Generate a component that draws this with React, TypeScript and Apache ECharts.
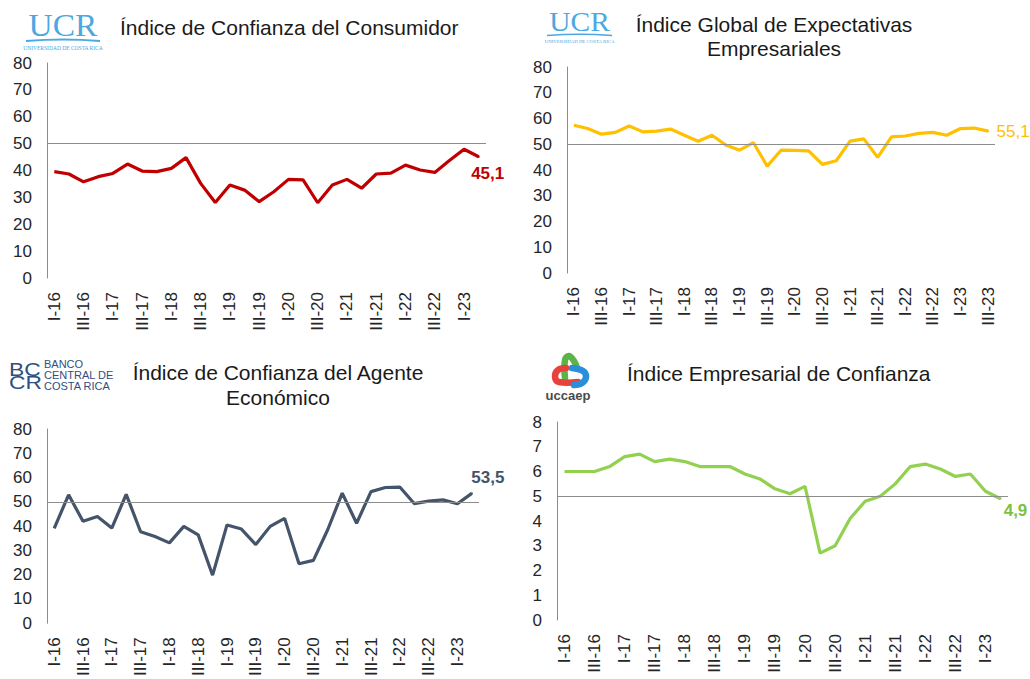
import React, { useEffect, useRef } from "react";
import * as echarts from "echarts";

const quarters = [
  "I-16", "II-16", "III-16", "IV-16",
  "I-17", "II-17", "III-17", "IV-17",
  "I-18", "II-18", "III-18", "IV-18",
  "I-19", "II-19", "III-19", "IV-19",
  "I-20", "II-20", "III-20", "IV-20",
  "I-21", "II-21", "III-21", "IV-21",
  "I-22", "II-22", "III-22", "IV-22",
  "I-23", "II-23", "III-23",
];

const consumidor = [39.6, 38.7, 35.8, 37.7, 38.9, 42.4, 39.8, 39.6, 40.8, 44.8, 35.2, 28.1, 34.6, 32.7, 28.4, 32.1, 36.7, 36.5, 28.0, 34.6, 36.7, 33.4, 38.7, 39.0, 42.0, 40.2, 39.3, 43.7, 47.9, 45.1];
const expectativas = [57.4, 56.1, 53.9, 54.6, 57.1, 54.8, 55.1, 55.9, 53.5, 51.2, 53.5, 49.7, 47.7, 50.6, 41.5, 47.7, 47.6, 47.4, 42.2, 43.6, 51.2, 52.1, 44.9, 52.9, 53.2, 54.2, 54.6, 53.5, 56.1, 56.3, 55.1];
const agente = [39.1, 52.9, 42.0, 44.0, 39.2, 53.1, 37.7, 35.7, 33.1, 39.9, 36.4, 19.8, 40.5, 38.8, 32.4, 39.9, 43.2, 24.5, 25.9, 38.6, 53.6, 41.2, 54.2, 55.9, 56.1, 49.3, 50.3, 50.8, 49.2, 53.5];
const empresarial = [6.0, 6.0, 6.0, 6.2, 6.6, 6.7, 6.4, 6.5, 6.4, 6.2, 6.2, 6.2, 5.9, 5.7, 5.3, 5.1, 5.4, 2.7, 3.0, 4.1, 4.8, 5.0, 5.5, 6.2, 6.3, 6.1, 5.8, 5.9, 5.2, 4.9];

const titles = {
  consumidor: ["Índice de Confianza del Consumidor"],
  expectativas: ["Índice Global de Expectativas", "Empresariales"],
  agente: ["Índice de Confianza del Agente", "Económico"],
  empresarial: ["Índice Empresarial de Confianza"],
};

const yScale100 = { min: 0, max: 80, interval: 10 };
const yScale10 = { min: 0, max: 8, interval: 1 };
const threshold100 = 50;
const threshold10 = 5;

const FONT = "'Liberation Sans', Arial, sans-serif";
const SERIF = "'Liberation Serif', 'DejaVu Serif', serif";

type Panel = {
  grid: { left: number; top: number; width: number; height: number };
  values: number[];
  color: string;
  labelColor: string;
  labelBold: boolean;
  labelOffset: number[];
  scale: { min: number; max: number; interval: number };
  threshold: number;
};

const panels: Panel[] = [
  {
    grid: { left: 47, top: 63, width: 439, height: 215 },
    values: consumidor,
    color: "#C00000",
    labelColor: "#C00000",
    labelBold: true,
    labelOffset: [9, 17],
    scale: yScale100,
    threshold: threshold100,
  },
  {
    grid: { left: 567, top: 67, width: 428, height: 206 },
    values: expectativas,
    color: "#FFC000",
    labelColor: "#FFC000",
    labelBold: false,
    labelOffset: [25, 0],
    scale: yScale100,
    threshold: threshold100,
  },
  {
    grid: { left: 47, top: 429, width: 432, height: 196 },
    values: agente,
    color: "#44546A",
    labelColor: "#44546A",
    labelBold: true,
    labelOffset: [16, -16],
    scale: yScale100,
    threshold: threshold100,
  },
  {
    grid: { left: 557, top: 422, width: 451, height: 198 },
    values: empresarial,
    color: "#92D050",
    labelColor: "#7CC142",
    labelBold: true,
    labelOffset: [15, 12],
    scale: yScale10,
    threshold: threshold10,
  },
];

function buildOption() {
  const grids = panels.map((p) => ({ ...p.grid, containLabel: false }));
  const xAxes = panels.map((p, i) => ({
    type: "category",
    gridIndex: i,
    data: quarters.slice(0, p.values.length),
    boundaryGap: true,
    axisLine: { show: false },
    axisTick: { show: false },
    splitLine: { show: false },
    axisLabel: {
      rotate: 90,
      interval: 1,
      margin: 14,
      fontSize: 17,
      color: "#262626",
      fontFamily: FONT,
    },
  }));
  const yAxes = panels.map((p, i) => ({
    type: "value",
    gridIndex: i,
    min: p.scale.min,
    max: p.scale.max,
    interval: p.scale.interval,
    axisLine: { show: true, lineStyle: { color: "#8C8C8C", width: 1 } },
    axisTick: { show: false },
    splitLine: { show: false },
    axisLabel: {
      margin: 15,
      fontSize: 17,
      color: "#262626",
      fontFamily: FONT,
    },
  }));
  const series = panels.map((p, i) => {
    const last = p.values.length - 1;
    return {
      type: "line",
      xAxisIndex: i,
      yAxisIndex: i,
      symbol: "none",
      showSymbol: true,
      showAllSymbol: true,
      lineStyle: { color: p.color, width: 3.2 },
      itemStyle: { color: p.color },
      data: p.values.map((v, j) =>
        j === last
          ? {
              value: v,
              symbol: "circle",
              symbolSize: 2,
              itemStyle: { color: p.color },
              label: {
                show: true,
                position: "inside",
                offset: p.labelOffset,
                color: p.labelColor,
                fontSize: 17,
                fontWeight: p.labelBold ? "bold" : "normal",
                fontFamily: FONT,
                formatter: (d: any) => String(d.value).replace(".", ","),
              },
            }
          : v
      ),
      markLine: {
        silent: true,
        symbol: "none",
        label: { show: false },
        lineStyle: { color: "#8C8C8C", width: 1, type: "solid" },
        data: [{ yAxis: p.threshold }],
      },
    };
  });

  const titleStyle = (text: string, x: number, y: number, align: string) => ({
    type: "text",
    x,
    y,
    style: {
      text,
      fontSize: 21,
      fontFamily: FONT,
      fill: "#1A1A1A",
      align,
      verticalAlign: "middle",
    },
  });

  const ucrLogo = (x: number, y: number, s: number) => ({
    type: "group",
    x,
    y,
    scaleX: s,
    scaleY: s,
    children: [
      {
        type: "text",
        x: 37,
        y: -2,
        scaleX: 1.08,
        style: {
          text: "UCR",
          fontSize: 31,
          fontFamily: SERIF,
          fill: "#4BA8E0",
          align: "center",
          verticalAlign: "top",
        },
      },
      {
        type: "bezierCurve",
        shape: { x1: 0, y1: 29, x2: 74, y2: 29, cpx1: 37, cpy1: 26 },
        style: { stroke: "#4BA8E0", lineWidth: 1.8, fill: null },
      },
      {
        type: "text",
        x: 37,
        y: 36,
        style: {
          text: "UNIVERSIDAD DE COSTA RICA",
          fontSize: 5.5,
          fontFamily: SERIF,
          fill: "#4BA8E0",
          align: "center",
          verticalAlign: "middle",
        },
      },
    ],
  });

  const bccrColor = "#2F4F7F";
  const graphic = [
    titleStyle(titles.consumidor[0], 120, 27, "left"),
    titleStyle(titles.expectativas[0], 774, 24, "center"),
    titleStyle(titles.expectativas[1], 774, 48, "center"),
    titleStyle(titles.agente[0], 278, 372, "center"),
    titleStyle(titles.agente[1], 278, 397, "center"),
    titleStyle(titles.empresarial[0], 627, 373, "left"),
    ucrLogo(26, 12, 1),
    ucrLogo(547, 10, 0.88),
    // BCCR logo
    {
      type: "text",
      x: 9,
      y: 369,
      scaleX: 1.2,
      style: { text: "BC", fontSize: 19, fontFamily: FONT, fill: bccrColor, verticalAlign: "middle" },
    },
    {
      type: "text",
      x: 9,
      y: 382,
      scaleX: 1.2,
      style: { text: "CR", fontSize: 19, fontFamily: FONT, fill: bccrColor, verticalAlign: "middle" },
    },
    {
      type: "text",
      x: 44,
      y: 364,
      style: { text: "BANCO", fontSize: 11, fontFamily: FONT, fill: bccrColor, verticalAlign: "middle" },
    },
    {
      type: "text",
      x: 44,
      y: 375,
      style: { text: "CENTRAL DE", fontSize: 11, fontFamily: FONT, fill: bccrColor, verticalAlign: "middle" },
    },
    {
      type: "text",
      x: 44,
      y: 386,
      style: { text: "COSTA RICA", fontSize: 11, fontFamily: FONT, fill: bccrColor, verticalAlign: "middle" },
    },
    // uccaep logo
    {
      type: "polyline",
      shape: { points: [[565, 378], [565, 360], [569, 356], [574, 361], [577, 368]], smooth: 0.4 },
      style: { stroke: "#5BB446", lineWidth: 6.5, lineCap: "round", lineJoin: "round", fill: null },
    },
    {
      type: "polyline",
      shape: { points: [[578, 382], [559, 382], [555, 377], [558, 370], [566, 368]], smooth: 0.4 },
      style: { stroke: "#E8413C", lineWidth: 6.5, lineCap: "round", lineJoin: "round", fill: null },
    },
    {
      type: "polyline",
      shape: { points: [[572, 368], [583, 371], [586, 377], [582, 383], [574, 385]], smooth: 0.4 },
      style: { stroke: "#2A8FD8", lineWidth: 6.5, lineCap: "round", lineJoin: "round", fill: null },
    },
    {
      type: "text",
      x: 568,
      y: 395,
      style: {
        text: "uccaep",
        fontSize: 13,
        fontWeight: "bold",
        fontFamily: FONT,
        fill: "#4A4A4A",
        align: "center",
        verticalAlign: "middle",
      },
    },
  ];

  return {
    animation: false,
    backgroundColor: "#FFFFFF",
    grid: grids,
    xAxis: xAxes,
    yAxis: yAxes,
    series,
    graphic,
  };
}

export default function App() {
  const ref = useRef<HTMLDivElement>(null);
  useEffect(() => {
    if (!ref.current) return;
    const chart = echarts.init(ref.current, undefined, { renderer: "svg" });
    chart.setOption(buildOption() as any);
    return () => chart.dispose();
  }, []);
  return (
    <div
      ref={ref}
      style={{ position: "absolute", left: 0, top: 0, width: 1030, height: 679, background: "#fff" }}
    />
  );
}
